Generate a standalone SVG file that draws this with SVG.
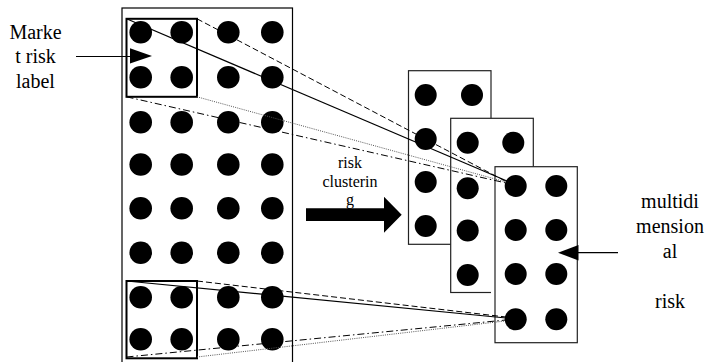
<svg xmlns="http://www.w3.org/2000/svg" width="709" height="362" viewBox="0 0 709 362">
  <defs>
    <style>
      text { font-family: 'Liberation Serif', serif; fill: #000; text-anchor: middle; }
      .frame { fill: none; stroke: #000; stroke-width: 1.2; }
      .pick { fill: none; stroke: #000; stroke-width: 2; }
      .card { fill: #fff; stroke: #222; stroke-width: 1.2; }
      .dot { fill: #000; }
      .solid { stroke: #000; stroke-width: 1.2; fill: none; }
      .dashed { stroke: #000; stroke-width: 1; fill: none; stroke-dasharray: 6 3; }
      .dashdot { stroke: #000; stroke-width: 1; fill: none; stroke-dasharray: 7 3 1.5 3; }
      .dotted { stroke: #555; stroke-width: 1; fill: none; stroke-dasharray: 1 1.2; }
      .ptr { stroke: #000; stroke-width: 1.2; fill: none; }
    </style>
  </defs>

  <!-- source grid of risk items -->
  <g id="source-grid">
    <rect class="frame" x="122" y="8" width="170.5" height="380"/>
    <g class="dot">
      <circle cx="140.7" cy="32.3" r="11.3"/><circle cx="181.7" cy="32.3" r="11.3"/><circle cx="228.3" cy="32.3" r="11.3"/><circle cx="272.3" cy="32.3" r="11.3"/>
      <circle cx="140.7" cy="77.3" r="11.3"/><circle cx="181.7" cy="77.3" r="11.3"/><circle cx="228.3" cy="77.3" r="11.3"/><circle cx="272.3" cy="77.3" r="11.3"/>
      <circle cx="140.7" cy="122.3" r="11.3"/><circle cx="181.7" cy="122.3" r="11.3"/><circle cx="228.3" cy="122.3" r="11.3"/><circle cx="272.3" cy="122.3" r="11.3"/>
      <circle cx="140.7" cy="164.5" r="11.3"/><circle cx="181.7" cy="164.5" r="11.3"/><circle cx="228.3" cy="164.5" r="11.3"/><circle cx="272.3" cy="164.5" r="11.3"/>
      <circle cx="140.7" cy="208.3" r="11.3"/><circle cx="181.7" cy="208.3" r="11.3"/><circle cx="228.3" cy="208.3" r="11.3"/><circle cx="272.3" cy="208.3" r="11.3"/>
      <circle cx="140.7" cy="252.7" r="11.3"/><circle cx="181.7" cy="252.7" r="11.3"/><circle cx="228.3" cy="252.7" r="11.3"/><circle cx="272.3" cy="252.7" r="11.3"/>
      <circle cx="140.7" cy="297.3" r="11.3"/><circle cx="181.7" cy="297.3" r="11.3"/><circle cx="228.3" cy="297.3" r="11.3"/><circle cx="272.3" cy="297.3" r="11.3"/>
      <circle cx="140.7" cy="339.3" r="11.3"/><circle cx="181.7" cy="339.3" r="11.3"/><circle cx="228.3" cy="339.3" r="11.3"/><circle cx="272.3" cy="339.3" r="11.3"/>
    </g>
  </g>

  <!-- labelled selections within the grid -->
  <g id="select-top">
    <rect class="pick" x="126.5" y="18.8" width="70.5" height="78"/>
  </g>
  <g id="select-bottom">
    <rect class="pick" x="126.5" y="281" width="70.5" height="77.3"/>
  </g>

  <!-- stacked cluster cards -->
  <g id="cluster-1">
    <rect class="card" x="408.5" y="70.7" width="82.5" height="173.6"/>
    <circle class="dot" cx="425.7" cy="95" r="11"/>
    <circle class="dot" cx="472" cy="95" r="11"/>
    <circle class="dot" cx="425.7" cy="139" r="11"/>
    <circle class="dot" cx="425.7" cy="182" r="11"/>
    <circle class="dot" cx="425.7" cy="226" r="11"/>
  </g>
  <g id="cluster-2">
    <rect class="card" x="450.7" y="118.3" width="82.6" height="174.2"/>
    <circle class="dot" cx="467.7" cy="142.7" r="11"/>
    <circle class="dot" cx="513.3" cy="142.7" r="11"/>
    <circle class="dot" cx="467.7" cy="188.3" r="11"/>
    <circle class="dot" cx="467.7" cy="230.5" r="11"/>
    <circle class="dot" cx="467.7" cy="275" r="11"/>
  </g>
  <g id="cluster-3">
    <rect x="491" y="162.7" width="4" height="184" fill="#fff"/>
    <rect class="card" x="495" y="166.7" width="82.3" height="176"/>
    <circle class="dot" cx="515.7" cy="186" r="11"/>
    <circle class="dot" cx="556.3" cy="186" r="11"/>
    <circle class="dot" cx="515.7" cy="230" r="11"/>
    <circle class="dot" cx="556.3" cy="230" r="11"/>
    <circle class="dot" cx="515.7" cy="274" r="11"/>
    <circle class="dot" cx="556.3" cy="274" r="11"/>
    <circle class="dot" cx="515.7" cy="319.3" r="11"/>
    <circle class="dot" cx="556.3" cy="319.3" r="11"/>
  </g>

  <!-- projection lines from selections to cluster items -->
  <g id="connectors">
    <line class="solid" x1="126.5" y1="18.8" x2="507" y2="181"/>
    <line class="dashed" x1="197" y1="18.8" x2="507" y2="182"/>
    <line class="dashdot" x1="126.5" y1="96.8" x2="506" y2="183"/>
    <line class="dotted" x1="197" y1="96.8" x2="506" y2="182"/>

    <line class="solid" x1="126.5" y1="281" x2="506" y2="318"/>
    <line class="dashed" x1="197" y1="281" x2="506" y2="317"/>
    <line class="dashdot" x1="126.5" y1="357" x2="506" y2="320"/>
    <line class="dotted" x1="197" y1="357" x2="505" y2="321"/>

    <!-- pointer into the top selection -->
    <line class="ptr" x1="76" y1="56.5" x2="134" y2="56.5"/>
    <polygon points="130,48.3 152,56 130,63.5" fill="#000"/>

    <!-- pointer into the multidimensional card -->
    <line class="ptr" x1="618" y1="252.7" x2="574" y2="252.7"/>
    <polygon points="578.5,245 558,252.7 578.5,260.5" fill="#000"/>

    <!-- clustering arrow -->
    <polygon points="306,208.3 384,208.3 384,196.7 401.7,214.7 384,232.7 384,221 306,221" fill="#000"/>
  </g>

  <!-- text -->
  <g id="label-market" font-size="20">
    <text x="35.5" y="39.3" font-family="'Liberation Serif', serif">Marke</text>
    <text x="35.5" y="63.3" font-family="'Liberation Serif', serif">t risk</text>
    <text x="35.5" y="87.7" font-family="'Liberation Serif', serif">label</text>
  </g>
  <g id="label-clustering" font-size="16">
    <text x="350" y="168" font-family="'Liberation Serif', serif">risk</text>
    <text x="350" y="186.7" font-family="'Liberation Serif', serif">clusterin</text>
    <text x="350" y="205" font-family="'Liberation Serif', serif">g</text>
  </g>
  <g id="label-multidimensional" font-size="20">
    <text x="670" y="207.5" font-family="'Liberation Serif', serif">multidi</text>
    <text x="670" y="233" font-family="'Liberation Serif', serif">mension</text>
    <text x="670" y="258" font-family="'Liberation Serif', serif">al</text>
    <text x="670" y="308" font-family="'Liberation Serif', serif">risk</text>
  </g>
</svg>
